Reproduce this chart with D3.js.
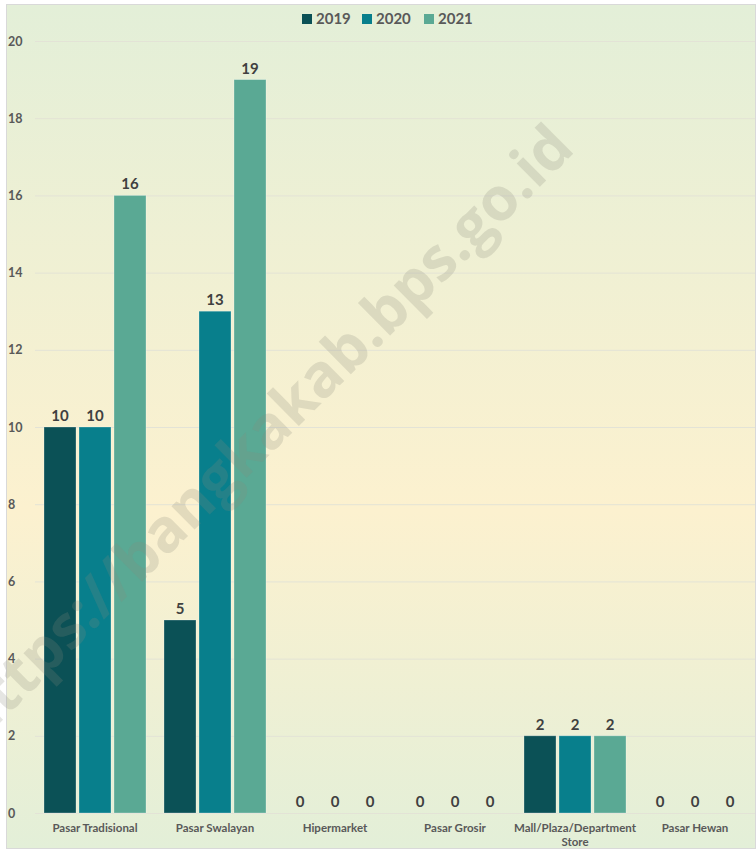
<!DOCTYPE html>
<html>
<head>
<meta charset="utf-8">
<script src="https://cdn.jsdelivr.net/npm/d3@7"></script>
<style>
    html, body { margin: 0; padding: 0; background: #ffffff; }
    svg { display: block; font-family: Lato, "Open Sans", sans-serif; }
</style>
</head>
<body>
<div id="chart-container"></div>
<script>
// Data
const categories = ['Pasar Tradisional', 'Pasar Swalayan', 'Hipermarket', 'Pasar Grosir', 'Mall/Plaza/Department Store', 'Pasar Hewan'];
const years = ['2019', '2020', '2021'];
const values2019 = [10, 5, 0, 0, 2, 0];
const values2020 = [10, 13, 0, 0, 2, 0];
const values2021 = [16, 19, 0, 0, 2, 0];
const yTicks = [0, 2, 4, 6, 8, 10, 12, 14, 16, 18, 20];
const colors = ['#0b5156', '#087f8c', '#5aa994'];

const series = [values2019, values2020, values2021];

const W = 756, H = 849;
const margin = { top: 41, right: 1, bottom: 36, left: 35 };

const svg = d3.select('#chart-container')
    .append('svg')
    .attr('width', W)
    .attr('height', H);

// background gradient (green - pale yellow - green)
const grad = svg.append('defs').append('linearGradient')
    .attr('id', 'bg')
    .attr('x1', 0).attr('y1', 0).attr('x2', 0).attr('y2', 1);
grad.append('stop').attr('offset', '0%').attr('stop-color', '#e3efd8');
grad.append('stop').attr('offset', '60%').attr('stop-color', '#fcf1cf');
grad.append('stop').attr('offset', '100%').attr('stop-color', '#e3efd8');

svg.append('rect')
    .attr('x', 6.5).attr('y', 4.5)
    .attr('width', W - 7).attr('height', H - 5)
    .attr('fill', 'url(#bg)')
    .attr('stroke', '#d9d9d9');

// scales
const x0 = d3.scaleBand()
    .domain(categories)
    .range([margin.left, W - margin.right])
    .paddingInner(0.15)
    .paddingOuter(0.075);

const x1 = d3.scaleBand()
    .domain(years)
    .range([0, x0.bandwidth()])
    .paddingInner(0.0857);

const y = d3.scaleLinear()
    .domain([0, 20])
    .range([H - margin.bottom, margin.top]);

// grid lines + y tick labels
const yAxis = svg.append('g')
    .attr('transform', `translate(${margin.left},0)`)
    .call(d3.axisLeft(y).tickValues(yTicks).tickSize(0).tickPadding(0));
yAxis.select('.domain').remove();
yAxis.selectAll('.tick text')
    .attr('x', -27)
    .attr('text-anchor', 'start')
    .attr('font-family', 'Lato, sans-serif')
    .attr('font-size', 12.5)
    .attr('font-weight', 'bold')
    .attr('fill', '#595959');
yAxis.selectAll('.tick line')
    .attr('x2', W - margin.right - margin.left)
    .attr('stroke', '#e3e3d6')
    .attr('stroke-width', 1);

// bars
const groups = svg.append('g')
    .selectAll('g')
    .data(categories)
    .join('g')
    .attr('transform', d => `translate(${x0(d)},0)`);

groups.selectAll('rect')
    .data((d, i) => years.map((yr, k) => ({ year: yr, value: series[k][i], k })))
    .join('rect')
    .attr('x', d => x1(d.year))
    .attr('y', d => y(d.value))
    .attr('width', x1.bandwidth())
    .attr('height', d => y(0) - y(d.value))
    .attr('fill', d => colors[d.k])
    .attr('stroke', 'rgba(255,255,255,0.35)')
    .attr('stroke-width', 0.8);

// value labels
groups.selectAll('text')
    .data((d, i) => years.map((yr, k) => ({ year: yr, value: series[k][i], k })))
    .join('text')
    .attr('x', d => x1(d.year) + x1.bandwidth() / 2)
    .attr('y', d => y(d.value) - 6)
    .attr('text-anchor', 'middle')
    .attr('font-size', 15)
    .attr('font-weight', 'bold')
    .attr('fill', '#404040')
    .text(d => d.value);

// category labels (wrapped)
const xLab = svg.append('g');
categories.forEach(c => {
    const lines = c === 'Mall/Plaza/Department Store' ? ['Mall/Plaza/Department', 'Store'] : [c];
    const t = xLab.append('text')
        .attr('x', x0(c) + x0.bandwidth() / 2)
        .attr('y', y(0) + 19)
        .attr('text-anchor', 'middle')
        .attr('font-size', 11.5)
        .attr('font-weight', 'bold')
        .attr('fill', '#595959');
    lines.forEach((l, i) => {
        t.append('tspan')
            .attr('x', x0(c) + x0.bandwidth() / 2)
            .attr('dy', i === 0 ? 0 : 14)
            .text(l);
    });
});

// legend
const legendX = [302, 362, 424];
const legend = svg.append('g');
years.forEach((yr, k) => {
    legend.append('rect')
        .attr('x', legendX[k]).attr('y', 14)
        .attr('width', 10).attr('height', 10)
        .attr('fill', colors[k]);
    legend.append('text')
        .attr('x', legendX[k] + 14).attr('y', 24)
        .attr('font-size', 15)
        .attr('font-weight', 'bold')
        .attr('fill', '#595959')
        .text(yr);
});

// watermark (runs off the left edge, as in the original)
svg.append('text')
    .attr('transform', 'translate(266,436) rotate(-44.8)')
    .attr('text-anchor', 'middle')
    .attr('dominant-baseline', 'middle')
    .attr('font-family', '"Open Sans", sans-serif')
    .attr('font-size', 60)
    .attr('font-weight', 'bold')
    .attr('fill', '#8a8a7a')
    .attr('fill-opacity', 0.22)
    .text('https://bangkakab.bps.go.id');
</script>
</body>
</html>
